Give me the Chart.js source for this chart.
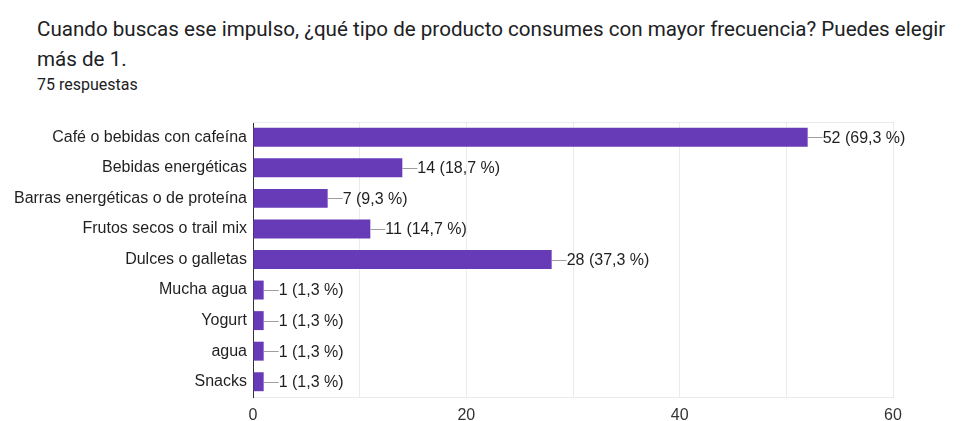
<!DOCTYPE html>
<html lang="es">
<head>
<meta charset="utf-8">
<script src="https://cdn.jsdelivr.net/npm/chart.js@4/dist/chart.umd.min.js"></script>
<style>
  html, body { margin: 0; padding: 0; background: #fff; }
  body { width: 963px; height: 421px; position: relative; overflow: hidden; }
  .title {
    position: absolute; left: 37px; top: 14px; width: 940px; white-space: nowrap;
    font-family: Roboto, "Liberation Sans", Arial, sans-serif;
    font-size: 20.6px; line-height: 30px; color: #202124;
  }
  .sub {
    position: absolute; left: 37px; top: 75px;
    font-family: Roboto, "Liberation Sans", Arial, sans-serif;
    font-size: 16px; line-height: 20px; color: #202124;
  }
  #wrap { position: absolute; left: 0; top: 0; width: 963px; height: 421px; }
</style>
</head>
<body>
<div class="title">Cuando buscas ese impulso, ¿qué tipo de producto consumes con mayor frecuencia? Puedes elegir<br>más de 1.</div>
<div class="sub">75 respuestas</div>
<div id="wrap"><canvas id="chart"></canvas></div>
<script>
// Answer options and how many of the 75 respondents picked each one
const categories = [
  "Café o bebidas con cafeína",
  "Bebidas energéticas",
  "Barras energéticas o de proteína",
  "Frutos secos o trail mix",
  "Dulces o galletas",
  "Mucha agua",
  "Yogurt",
  "agua",
  "Snacks"
];
const counts = [52, 14, 7, 11, 28, 1, 1, 1, 1];
const percentLabels = ["69,3 %", "18,7 %", "9,3 %", "14,7 %", "37,3 %", "1,3 %", "1,3 %", "1,3 %", "1,3 %"];
const xTickValues = [0, 20, 40, 60];

const fontFamily = '"Liberation Sans", Arial, sans-serif';
const labelFont = '16px ' + fontFamily;

// Draws "—N (P %)" to the right of each bar
const valueLabels = {
  id: 'valueLabels',
  afterDatasetsDraw(chart) {
    const ctx = chart.ctx;
    const meta = chart.getDatasetMeta(0);
    ctx.save();
    ctx.font = labelFont;
    ctx.textBaseline = 'middle';
    ctx.textAlign = 'left';
    meta.data.forEach((bar, i) => {
      const x = bar.x, y = bar.y;
      ctx.strokeStyle = '#9e9e9e';
      ctx.lineWidth = 1;
      ctx.beginPath();
      ctx.moveTo(x, Math.round(y) + 0.5);
      ctx.lineTo(x + 15, Math.round(y) + 0.5);
      ctx.stroke();
      ctx.fillStyle = '#1f1f1f';
      ctx.fillText(counts[i] + ' (' + percentLabels[i] + ')', x + 15, y + 1);
    });
    ctx.restore();
  }
};

// Light frame line along the top of the plot area
const topFrame = {
  id: 'topFrame',
  beforeDatasetsDraw(chart) {
    const { ctx, chartArea } = chart;
    ctx.save();
    ctx.strokeStyle = '#ebebeb';
    ctx.lineWidth = 1;
    ctx.beginPath();
    ctx.moveTo(chartArea.left, chartArea.top + 0.5);
    ctx.lineTo(chartArea.right, chartArea.top + 0.5);
    ctx.stroke();
    ctx.restore();
  }
};

new Chart(document.getElementById('chart'), {
  type: 'bar',
  data: {
    labels: categories,
    datasets: [{
      data: counts,
      backgroundColor: '#673ab7',
      borderWidth: 0,
      categoryPercentage: 1,
      barPercentage: 0.62
    }]
  },
  options: {
    indexAxis: 'y',
    responsive: true,
    maintainAspectRatio: false,
    animation: false,
    layout: { padding: { top: 122, right: 70, bottom: 0, left: 0 } },
    plugins: {
      legend: { display: false },
      tooltip: { enabled: false }
    },
    scales: {
      x: {
        min: 0,
        max: 60,
        ticks: {
          stepSize: 10,
          padding: 9,
          color: '#333333',
          font: { family: fontFamily, size: 16 },
          callback: (v) => xTickValues.includes(v) ? String(v) : ''
        },
        grid: { color: '#ebebeb', drawTicks: false },
        border: { color: '#ebebeb' },
        afterFit(scale) { scale.height = 24; }
      },
      y: {
        ticks: {
          padding: 6,
          color: '#1f1f1f',
          font: { family: fontFamily, size: 16 }
        },
        grid: { display: false, drawTicks: false },
        border: { color: '#333333', width: 1 },
        afterFit(scale) { scale.width = 253; }
      }
    }
  },
  plugins: [topFrame, valueLabels]
});
</script>
</body>
</html>
